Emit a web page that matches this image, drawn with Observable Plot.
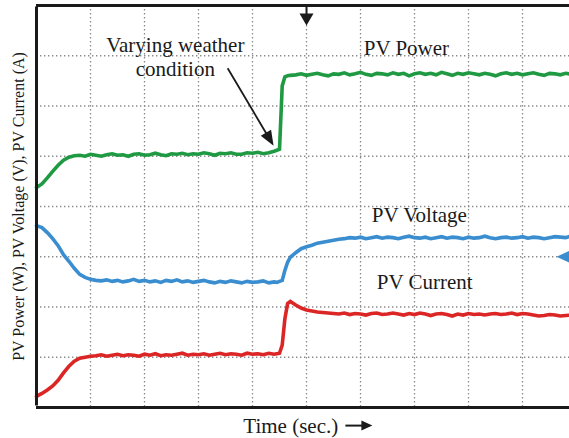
<!DOCTYPE html>
<html><head><meta charset="utf-8">
<script src="https://cdn.jsdelivr.net/npm/d3@7"></script>
<script src="https://cdn.jsdelivr.net/npm/@observablehq/plot@0.6"></script>
<style>html,body{margin:0;padding:0;background:#fff;} #chart{width:569px;height:438px;overflow:hidden}</style>
</head><body><div id="chart"></div>
<script>
// time in oscilloscope divisions
const time = [0,0.1,0.2,0.3,0.4,0.5,0.6,0.7,0.8,0.9,1.0,1.1,1.2,1.3,1.4,1.5,1.6,1.7,1.8,1.9,2.0,2.1,2.2,2.3,2.4,2.5,2.6,2.7,2.8,2.9,3.0,3.1,3.2,3.3,3.4,3.5,3.6,3.7,3.8,3.9,4.0,4.1,4.2,4.3,4.4,
  4.45,4.5,4.55,4.6,4.65,4.7,
  4.8,4.9,5.0,5.1,5.2,5.3,5.4,5.5,5.6,5.7,5.8,5.9,6.0,6.1,6.2,6.3,6.4,6.5,6.6,6.7,6.8,6.9,7.0,7.1,7.2,7.3,7.4,7.5,7.6,7.7,7.8,7.9,8.0,8.1,8.2,8.3,8.4,8.5,8.6,8.7,8.8,8.9,9.0,9.1,9.2,9.3,9.4,9.5,9.6,9.7,9.8,9.9];

const pvPower = [4.38,4.45,4.57,4.70,4.82,4.92,4.98,5.01,
  5.02,5.00,5.04,5.02,5.00,5.03,5.05,5.02,5.03,5.00,
  5.04,5.05,5.02,5.03,5.06,5.03,5.01,5.05,5.04,5.06,
  5.03,5.05,5.04,5.07,5.05,5.02,5.06,5.05,5.07,5.04,
  5.04,5.07,5.06,5.08,5.05,5.07,5.10,
  5.12,5.14,6.40,6.58,6.60,6.61,
  6.62,6.64,6.61,6.63,6.65,6.62,6.60,6.64,6.63,6.66,
  6.62,6.64,6.67,6.63,6.61,6.65,6.64,6.62,6.66,6.63,
  6.65,6.60,6.64,6.66,6.63,6.65,6.62,6.67,6.64,6.61,
  6.65,6.63,6.66,6.64,6.62,6.65,6.63,6.60,6.64,6.66,
  6.63,6.65,6.62,6.64,6.66,6.63,6.61,6.65,6.64,6.62,
  6.65,6.63];

const pvVoltage = [3.62,3.58,3.48,3.36,3.22,3.04,2.91,2.77,2.65,2.59,2.55,2.53,
  2.52,2.54,2.51,2.53,2.50,2.52,2.55,2.51,2.53,2.50,
  2.52,2.49,2.53,2.51,2.54,2.50,2.52,2.49,2.51,2.53,
  2.50,2.48,2.51,2.49,2.52,2.50,2.48,2.51,2.49,2.50,
  2.52,2.48,2.50,2.49,2.51,
  2.53,
  2.73,2.89,2.99,3.08,3.16,3.20,3.23,3.27,3.29,3.31,3.33,3.35,3.36,3.38,
  3.37,3.39,3.36,3.38,3.40,3.37,3.39,3.38,3.36,3.39,
  3.41,3.38,3.37,3.39,3.36,3.38,3.40,3.37,3.39,3.38,
  3.36,3.39,3.37,3.38,3.41,3.38,3.36,3.38,3.39,3.37,
  3.38,3.40,3.37,3.39,3.38,3.36,3.38,3.40,3.39,3.38,
  3.41];

const pvCurrent = [0.22,0.28,0.35,0.43,0.54,0.69,0.82,0.92,0.98,1.00,1.02,
  1.03,1.05,1.02,1.04,1.06,1.03,1.05,1.04,1.02,1.06,
  1.04,1.07,1.03,1.05,1.04,1.06,1.08,1.04,1.06,1.05,
  1.07,1.04,1.06,1.08,1.05,1.07,1.06,1.04,1.08,1.06,
  1.07,1.05,1.08,1.06,1.07,1.08,
  1.24,1.77,2.07,2.11,2.04,1.98,1.94,1.92,1.90,1.89,1.88,1.87,
  1.86,1.88,1.85,1.87,1.86,1.84,1.87,1.88,1.85,1.86,
  1.88,1.86,1.84,1.87,1.85,1.88,1.86,1.83,1.86,1.87,
  1.85,1.82,1.86,1.84,1.87,1.85,1.86,1.84,1.86,1.87,
  1.85,1.86,1.88,1.85,1.87,1.86,1.84,1.82,1.83,1.85,
  1.84,1.82,1.83,1.84];

const seriesNames = ["PV Power", "PV Voltage", "PV Current"];
const seriesColors = ["#1f9a42", "#3a8ed0", "#dc2626"];
const gridX = [1,2,3,4,5,6,7,8,9];
const gridY = [1,2,3,4,5,6,7];

// annotation placement (in division units)
const labels = [
  {text: "Varying weather\ncondition", x: 2.57, y: 6.59},
  {text: "PV Power", x: 6.85, y: 7.02},
  {text: "PV Voltage", x: 7.09, y: 3.70},
  {text: "PV Current", x: 7.19, y: 2.35}
];
const pointer = {x1: 3.54, y1: 6.75, x2: 4.39, y2: 5.21};
const trigger = {x: 5.0, y: 7.60};
const refMarker = {x: 9.63, y: 3.0};
const timeArrow = {x1: 5.72, x2: 6.22, y: -0.36};
const xLabel = {text: "Time (sec.)", x: 3.83, y: -0.50};
const yLabel = {text: "PV Power (W), PV Voltage (V), PV Current (A)", x: -0.33, y: 4.0};

const traces = [];
[pvPower, pvVoltage, pvCurrent].forEach((vals, k) =>
  vals.forEach((v, i) => traces.push({series: seriesNames[k], t: time[i], v})));

const W = 569, H = 438, mL = 36, mR = 0, mT = 5, mB = 31;
const xDomain = [0, 9.87], yDomain = [0, 8];
const sx = (W - mL - mR) / (xDomain[1] - xDomain[0]);
const sy = (H - mT - mB) / (yDomain[1] - yDomain[0]);

const head = (len, half) => ({draw(ctx) { ctx.moveTo(0, 0); ctx.lineTo(-half, len); ctx.lineTo(half, len); ctx.closePath(); }});
const pdx = (pointer.x2 - pointer.x1) * sx, pdy = -(pointer.y2 - pointer.y1) * sy;
const pointerAngle = Math.atan2(pdx, -pdy) * 180 / Math.PI;
const shaftEnd = {x: pointer.x1 + (pointer.x2 - pointer.x1) * 0.9, y: pointer.y1 + (pointer.y2 - pointer.y1) * 0.9};

const ink = "#1a1a1a";
const chart = Plot.plot({
  width: W, height: H,
  marginLeft: mL, marginRight: mR, marginTop: mT, marginBottom: mB,
  x: {domain: xDomain, axis: null},
  y: {domain: yDomain, axis: null},
  color: {domain: seriesNames, range: seriesColors},
  style: {fontFamily: "'Liberation Serif', 'Times New Roman', serif", background: "white", overflow: "hidden"},
  marks: [
    Plot.ruleX(gridX, {stroke: "#8a8a8a", strokeWidth: 1.3, strokeDasharray: "1.4,2.6"}),
    Plot.ruleY(gridY, {stroke: "#8a8a8a", strokeWidth: 1.3, strokeDasharray: "1.4,2.6"}),
    Plot.line(traces, {x: "t", y: "v", z: "series", stroke: "series", strokeWidth: 3.6, strokeLinejoin: "miter", strokeMiterlimit: 2}),
    Plot.ruleY([0, 8], {stroke: ink, strokeWidth: 3}),
    Plot.ruleX([0], {y1: 0, y2: 8, stroke: ink, strokeWidth: 3, insetTop: -1.5, insetBottom: -1.5}),
    Plot.text(labels, {x: "x", y: "y", text: "text", fontSize: 21, lineAnchor: "bottom", lineHeight: 1.14, textAnchor: "middle", fill: ink}),
    Plot.link([pointer], {x1: "x1", y1: "y1", x2: () => shaftEnd.x, y2: () => shaftEnd.y, stroke: ink, strokeWidth: 1.8}),
    Plot.dot([pointer], {x: "x2", y: "y2", symbol: head(15, 6), fill: ink, stroke: "none", rotate: pointerAngle}),
    Plot.ruleX([trigger], {x: "x", y1: 7.7, y2: 8, stroke: ink, strokeWidth: 2}),
    Plot.dot([trigger], {x: "x", y: "y", symbol: head(12, 7), fill: ink, stroke: "none", rotate: 180}),
    Plot.dot([refMarker], {x: "x", y: "y", symbol: head(15, 7), fill: seriesColors[1], stroke: "none", rotate: -90}),
    Plot.text([xLabel], {x: "x", y: "y", text: "text", fontSize: 21, lineAnchor: "bottom", textAnchor: "start", fill: ink}),
    Plot.link([timeArrow], {x1: "x1", x2: (d) => d.x1 + (d.x2 - d.x1) * 0.7, y1: "y", y2: "y", stroke: ink, strokeWidth: 2}),
    Plot.dot([timeArrow], {x: "x2", y: "y", symbol: head(11, 5), fill: ink, stroke: "none", rotate: 90}),
    Plot.text([yLabel], {x: "x", y: "y", text: "text", fontSize: 16, rotate: -90, textAnchor: "middle", lineAnchor: "middle", fill: ink})
  ]
});
document.getElementById("chart").appendChild(chart);
</script>
</body></html>
